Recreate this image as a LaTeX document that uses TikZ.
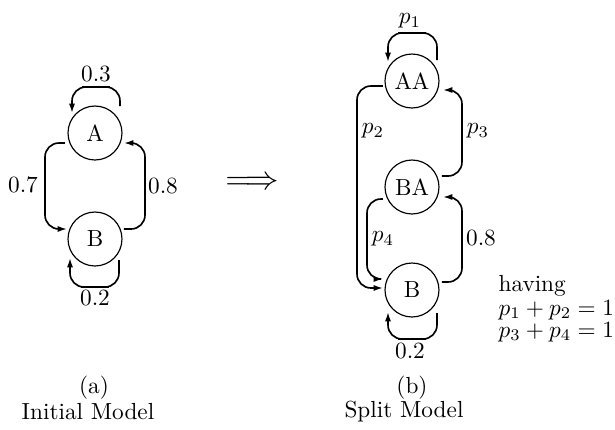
\documentclass[tikz,border=0pt]{standalone}
\usetikzlibrary{arrows.meta,calc}

\begin{document}
\begin{tikzpicture}[x=0.0151cm,y=-0.0151cm,line width=0.7pt,>={Latex[length=4pt,width=2.6pt]},
  state/.style={circle,draw,line width=0.5pt,minimum size=23.2pt,inner sep=0pt},
  trans/.style={->,rounded corners=6pt},
  caption/.style={inner sep=0pt}]
\useasboundingbox (0,0) rectangle (615,430);
% (a) initial model
\node[state] (A) at (95,133) {A};
\node[state] (B) at (95,239) {B};
\draw[trans] ($(A)+(25,-27)$) |- (96,87) -| ($(A)+(-23,-20)$);
\node at (96,74) {0.3};
\draw[trans] ($(B)+(24,21)$) |- (95,287) -| ($(B)+(-25,19)$);
\node at (95,298) {0.2};
\draw[trans] ($(A)+(-30,10)$) -| (45,185) |- ($(B)+(-28,-10)$);
\node at (23,185) {0.7};
\draw[trans] ($(B)+(29,-10)$) -| (145,185) |- ($(A)+(29,10)$);
\node at (163,186) {0.8};
\node[caption] at (94,388) {(a)};
\node[caption] at (88,412) {Initial Model};
% splitting
\node[font=\Large] (imp) at (252,183) {$\Longrightarrow$};
% (b) split model
\node[state] (AA) at (412,81) {AA};
\node[state] (BA) at (412,187) {BA};
\node[state] (sB) at (412,290) {B};
\draw[trans] ($(AA)+(25,-21)$) |- (412,33) -| ($(AA)+(-24,-19)$);
\node at (410,21) {$p_1$};
\draw[trans] ($(AA)+(-29,5)$) -| (357,185) |- ($(sB)+(-29,-2)$);
\node at (373,131) {$p_2$};
\draw[trans] ($(BA)+(30,-11)$) -| (462,130) |- ($(AA)+(31,9)$);
\node at (478,131) {$p_3$};
\draw[trans] ($(BA)+(-29,12)$) -| (367,240) |- ($(sB)+(-29,-11)$);
\node at (383,239) {$p_4$};
\draw[trans] ($(sB)+(30,-8)$) -| (462,240) |- ($(BA)+(31,10)$);
\node at (481,238) {0.8};
\draw[trans] ($(sB)+(25,23)$) |- (412,339) -| ($(sB)+(-24,22)$);
\node at (410,351) {0.2};
\node[anchor=base west] (cond) at (490,291) {having};
\node[anchor=base west] (cond1) at (490,315) {$p_1+p_2=1$};
\node[anchor=base west] (cond2) at (490,337) {$p_3+p_4=1$};
\node[caption] at (412,388) {(b)};
\node[caption] at (404,412) {Split Model};
\end{tikzpicture}
\end{document}
